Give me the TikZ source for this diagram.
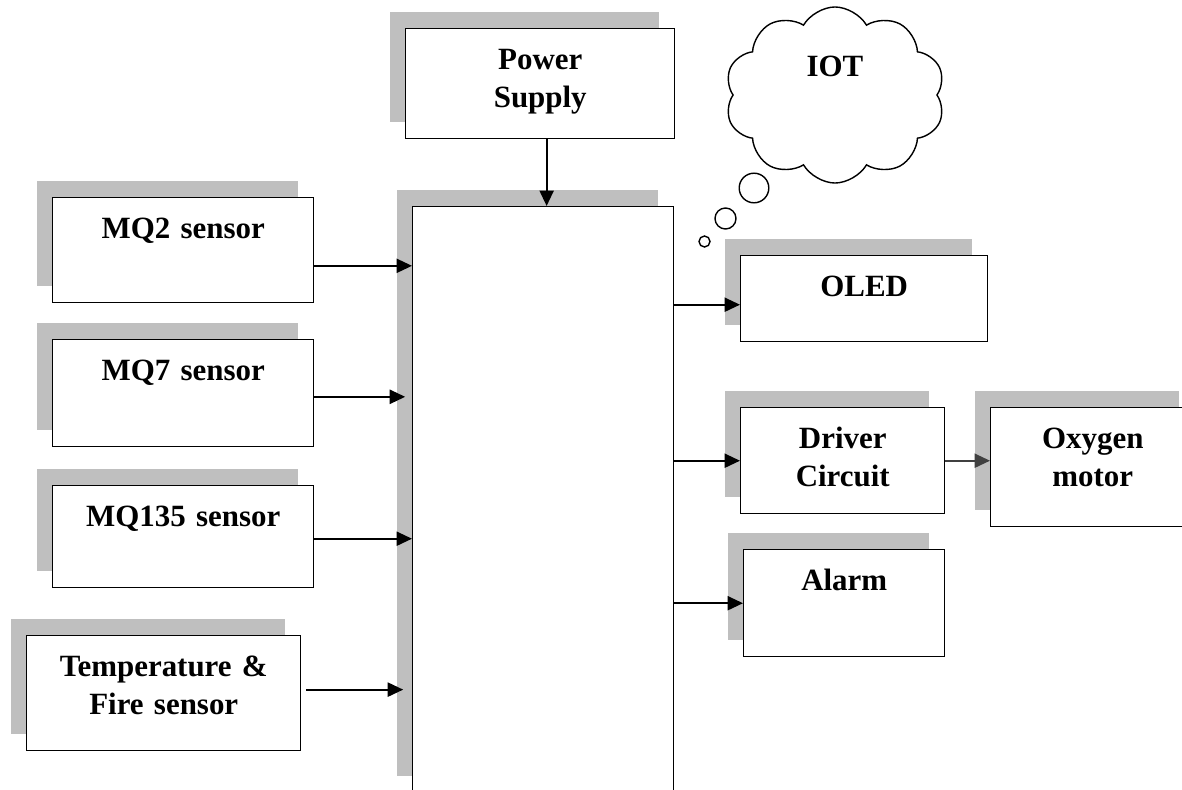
\documentclass[tikz,border=0pt]{standalone}
\usepackage{fontspec}
\setmainfont{Liberation Serif}
\usetikzlibrary{arrows.meta,shadows,shapes.symbols}

\tikzset{
  blk/.style={draw, line width=1pt, fill=white, anchor=north west,
    inner sep=0pt, align=center, text height=1.025cm,
    font=\fontsize{22}{27}\selectfont\bfseries,
    general shadow={fill=black!25, shadow xshift=-0.4cm, shadow yshift=0.41cm}},
  arr/.style={line width=1.5pt, -{Triangle[length=11pt,width=10pt]}},
  bubble/.style={circle, draw, line width=1pt, inner sep=0pt},
}

\begin{document}
\begin{tikzpicture}[x=0.025cm, y=-0.025cm]
\useasboundingbox (0,0) rectangle (1182,789);
\clip (0,0) rectangle (1182,789);

% controller, runs off the bottom
\node[blk, line width=0.8pt, text height=0pt, text depth=0pt,
      minimum width=6.525cm, minimum height=14.65cm] (main) at (412,206) {};

\node[blk, text width=6.725cm, text depth=1.725cm] (power) at (405,28) {Power\\Supply};

\node[blk, text width=6.525cm, text depth=1.6cm] (mq2) at (52,197) {MQ2 sensor};
\node[blk, text width=6.525cm, text depth=1.65cm] (mq7) at (52,339) {MQ7 sensor};
\node[blk, text width=6.525cm, text depth=1.525cm] (mq135) at (52,485) {MQ135 sensor};
\node[blk, text width=6.85cm, text depth=1.85cm] (temp) at (26,635) {Temperature \&\\Fire sensor};

\node[blk, text width=6.175cm, text depth=1.125cm] (oled) at (740,255) {OLED};
\node[blk, text width=5.1cm, text depth=1.625cm] (driver) at (740,407) {Driver\\Circuit};
\node[blk, text width=5.1cm, text depth=1.95cm] (oxygen) at (990,407) {Oxygen\\motor};
\node[blk, text width=5.025cm, text depth=1.65cm] (alarm) at (743,549) {Alarm};

% cloud + thought bubbles
\node[cloud, draw, line width=1pt, cloud puffs=10, cloud puff arc=120, aspect=1.25,
      minimum width=5.5cm, minimum height=4.4cm, inner sep=0pt,
      font=\fontsize{22}{27}\selectfont\bfseries,
      text height=0.5cm, text depth=1.4cm] (iot) at (835,95) {IOT};
\node[bubble, minimum size=0.74cm] (b1) at (754,188) {};
\node[bubble, minimum size=0.525cm] (b2) at (725.5,218.5) {};
\node[bubble, minimum size=0.275cm] (b3) at (704.5,241.5) {};

% inputs
\coordinate (ps) at ([xshift=0.16cm]power.south);
\draw[arr] (ps) -- (ps |- main.north);

\coordinate (s1) at ([yshift=-0.39cm]mq2.east);
\coordinate (s2) at ([yshift=-0.09cm]mq7.east);
\coordinate (s3) at ([yshift=-0.05cm]mq135.east);
\coordinate (s4) at ([xshift=0.12cm,yshift=0.09cm]temp.east);
\draw[arr] (s1) -- (s1 -| main.west);
\draw[arr, shorten >=0.17cm] (s2) -- (s2 -| main.west);
\draw[arr] (s3) -- (s3 -| main.west);
\draw[arr, shorten >=0.22cm] (s4) -- (s4 -| main.west);

% outputs
\coordinate (r1) at ([yshift=-0.15cm]oled.west);
\draw[arr] (r1 -| main.east) -- (r1);
\draw[arr] (driver.west -| main.east) -- (driver.west);
\draw[arr] (alarm.west -| main.east) -- (alarm.west);
\draw[arr, black!75] (driver.east) -- (driver.east -| oxygen.west);
\end{tikzpicture}
\end{document}
